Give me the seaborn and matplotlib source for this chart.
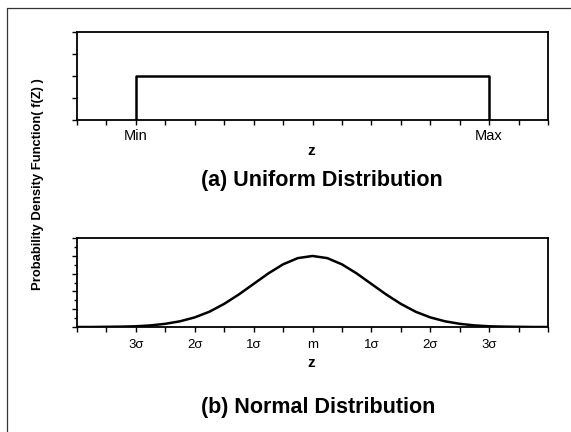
import numpy as np
import pandas as pd
import matplotlib
matplotlib.use("Agg")
import matplotlib.pyplot as plt
from matplotlib.lines import Line2D
from matplotlib.ticker import FixedLocator, MultipleLocator
import seaborn as sns

# ---- data ----
uniform_z = [2, 2, 14, 14]
uniform_f = [0, 1, 1, 0]
uniform_tick_pos = [2, 14]
uniform_tick_labels = ["Min", "Max"]

normal_z = [-4.0, -3.75, -3.5, -3.25, -3.0, -2.75, -2.5, -2.25, -2.0, -1.75, -1.5,
            -1.25, -1.0, -0.75, -0.5, -0.25, 0.0, 0.25, 0.5, 0.75, 1.0, 1.25,
            1.5, 1.75, 2.0, 2.25, 2.5, 2.75, 3.0, 3.25, 3.5, 3.75, 4.0]
normal_f = [0.000, 0.000, 0.001, 0.002, 0.004, 0.009, 0.018, 0.032, 0.054, 0.086,
            0.130, 0.183, 0.242, 0.301, 0.352, 0.387, 0.399, 0.387, 0.352, 0.301,
            0.242, 0.183, 0.130, 0.086, 0.054, 0.032, 0.018, 0.009, 0.004, 0.002,
            0.001, 0.000, 0.000]
normal_tick_pos = [-3, -2, -1, 0, 1, 2, 3]
normal_tick_labels = ["3σ", "2σ", "1σ", "m", "1σ", "2σ", "3σ"]

ylabel = "Probability Density Function( f(Z) )"
title_a = "(a) Uniform Distribution"
title_b = "(b) Normal Distribution"

# ---- style ----
sns.set_style("ticks")
plt.rcParams["font.family"] = ["Liberation Sans", "DejaVu Sans"]
plt.rcParams["text.color"] = "black"
plt.rcParams["xtick.color"] = "black"
plt.rcParams["ytick.color"] = "black"

W, H = 571, 432
fig = plt.figure(figsize=(W / 100, H / 100), dpi=100)


def px_rect(left, top, right, bottom):
    return [left / W, 1 - bottom / H, (right - left) / W, (bottom - top) / H]


ax1 = fig.add_axes(px_rect(77, 32, 548, 120))
ax2 = fig.add_axes(px_rect(77, 238, 548, 327))

df_u = pd.DataFrame({"z": uniform_z, "f": uniform_f})
df_n = pd.DataFrame({"z": normal_z, "f": normal_f})

sns.lineplot(data=df_u, x="z", y="f", ax=ax1, color="black", linewidth=1.8,
             sort=False, estimator=None)
sns.lineplot(data=df_n, x="z", y="f", ax=ax2, color="black", linewidth=1.8,
             sort=False, estimator=None)

ax1.set_xlim(0, 16)
ax1.set_ylim(0, 2)
ax2.set_xlim(-4, 4)
ax2.set_ylim(0, 0.5)

for ax in (ax1, ax2):
    for s in ax.spines.values():
        s.set_visible(True)
        s.set_linewidth(1.3)
        s.set_color("black")
    ax.set_xlabel("")
    ax.set_ylabel("")
    ax.tick_params(axis="both", which="both", direction="out", length=3.5,
                   width=1.0, color="black", labelcolor="black", pad=3)
    ax.tick_params(axis="y", labelleft=False)

ax1.xaxis.set_major_locator(FixedLocator(uniform_tick_pos))
ax1.set_xticklabels(uniform_tick_labels)
ax1.xaxis.set_minor_locator(MultipleLocator(1))
ax1.yaxis.set_major_locator(MultipleLocator(0.5))
ax1.tick_params(axis="x", labelsize=10.5)

ax2.xaxis.set_major_locator(FixedLocator(normal_tick_pos))
ax2.set_xticklabels(normal_tick_labels)
ax2.xaxis.set_minor_locator(MultipleLocator(0.5))
ax2.yaxis.set_major_locator(MultipleLocator(0.1))
ax2.yaxis.set_minor_locator(MultipleLocator(0.05))
ax2.tick_params(axis="y", which="minor", length=2)
ax2.tick_params(axis="x", labelsize=9.5, pad=5)

# text labels
fig.text(311 / W, 1 - 151 / H, "z", ha="center", va="center", fontsize=11,
         fontweight="bold")
fig.text(311 / W, 1 - 363 / H, "z", ha="center", va="center", fontsize=11,
         fontweight="bold")
fig.text(322 / W, 1 - 181 / H, title_a, ha="center", va="center",
         fontsize=15.5, fontweight="bold")
fig.text(318 / W, 1 - 407 / H, title_b, ha="center", va="center",
         fontsize=15.5, fontweight="bold")
fig.text(38 / W, 1 - 184 / H, ylabel, ha="center", va="center", rotation=90,
         fontsize=9.4, fontweight="bold")

# outer frame (left and top edges)
fig.add_artist(Line2D([7 / W, 7 / W, 570 / W], [0, 1 - 8 / H, 1 - 8 / H],
                      transform=fig.transFigure, color="#333333", linewidth=0.9))

fig.savefig("out.png", dpi=100)
